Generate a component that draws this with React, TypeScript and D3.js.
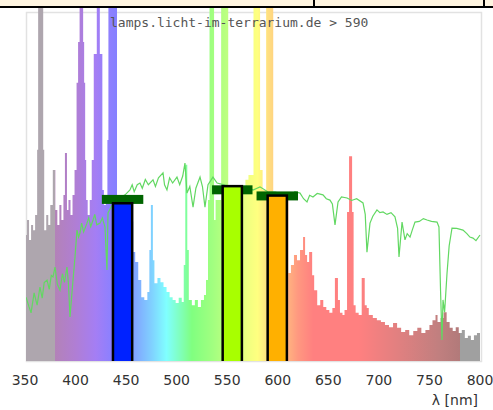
import React from 'react';
import * as d3 from 'd3';

const W = 493;
const H = 410;

const xTicks = [350, 400, 450, 500, 550, 600, 650, 700, 750, 800];
const axisTitle = 'λ [nm]';
const chartTitle = 'lamps.licht-im-terrarium.de > 590';

// lamp spectrum: [wavelength nm, relative intensity %] (step-after)
const spectrum: [number, number][] = [
  [350, 36.1], [352, 40.4], [354, 34.7], [356, 39.0], [358, 37.5], [360, 41.8],
  [362, 60.5], [363, 110], [368, 60.5], [369, 37.5], [371, 41.8], [373, 39.0],
  [375, 44.7], [377.5, 54.7], [380, 43.3], [382, 39.0], [384, 44.7], [386, 40.4],
  [388, 47.6], [389.5, 59.6], [391.5, 43.3], [393, 46.1], [395, 41.8], [397, 47.6],
  [399, 54.7], [401, 79.7], [402.5, 91.4], [404, 110], [407.5, 91.4], [408.5, 79.7],
  [409.5, 57.6], [410.5, 46.1], [412, 41.8], [414, 46.1], [416, 57.6], [418, 88],
  [421, 110], [424, 88], [426.5, 49], [428, 44.7], [430, 47.6], [431.5, 63.3],
  [432.5, 110], [441, 40], [457, 31.2], [459, 28.4], [462, 23.2], [465, 18.3],
  [468, 17.5], [471, 19.8], [473, 31.8], [474.5, 44.7], [476.5, 28.9], [478, 22.3],
  [481, 23.8], [484, 22.6], [487, 21.2], [490, 19.8], [493, 18.3], [496, 17.5],
  [499, 16.6], [502, 18.1], [505, 16.9], [507, 27.5], [508.5, 56.2], [510.5, 31.8],
  [512, 17.5], [515, 16.0], [518, 17.5], [521, 15.5], [524, 17.5], [527, 18.9],
  [529, 23.2], [531, 46.1], [532.5, 110], [537, 40.4], [538.5, 46.1], [544, 110],
  [551, 49.0], [565.5, 49.0], [568, 51.9], [571, 53.3], [576, 110], [582.5, 54.7],
  [585, 49.0], [588.5, 110], [595.5, 46.1], [610.5, 25.2], [613, 27.5], [616, 30.4],
  [619, 28.9], [622, 31.8], [625, 35.5], [627, 30.4], [629, 28.4], [631, 31.2],
  [634, 24.6], [636, 20.3], [639, 16.0], [642, 17.5], [645, 15.5], [648, 14.6],
  [651, 13.8], [654, 15.2], [656.5, 23.8], [659.5, 17.5], [661.5, 13.8], [664, 13.2],
  [666, 14.6], [668.5, 42.7], [670.5, 58.7], [673.5, 42.7], [675, 16.0], [677, 13.8],
  [680, 13.2], [683, 23.8], [686, 16.0], [688, 15.2], [690, 13.2], [694, 12.3],
  [698, 11.7], [702, 11.2], [706, 10.3], [710, 9.7], [714, 10.9], [718, 9.5],
  [722, 8.3], [726, 8.9], [730, 7.4], [734, 8.6], [738, 9.5], [742, 8.0],
  [746, 8.9], [750, 10.3], [753, 11.7], [756, 13.2], [758, 11.2], [761, 12.3],
  [764, 14.0], [767, 11.2], [770, 9.5], [773, 8.6], [776, 9.7], [779, 8.0],
  [782, 8.9], [785, 6.6], [788, 7.2], [791, 6.0], [794, 7.4], [797, 8.0], [800, 8.0],
];

// reference (daylight-like) curve: [wavelength nm, relative %]
const reference: [number, number][] = [
  [351, 18.3], [354, 15.5], [356, 13.8], [359, 19.5], [362, 16.0], [364.8, 21.2],
  [367, 18.0], [369, 22.5], [371.8, 23.2], [374, 20.5], [376, 24.5], [377.7, 24.1],
  [379.7, 26.9], [382, 22.0], [384.6, 20.3], [387, 25.0], [389, 22.5], [391.5, 26.9],
  [393, 22.0], [394.5, 12.6], [396, 18.0], [397.5, 23.2], [399.5, 30.0], [401.4, 37.5],
  [403, 35.5], [404.4, 36.7], [406, 39.5], [408, 37.0], [411.3, 39.5], [413, 41.0],
  [415, 38.5], [417.3, 40.4], [419, 42.0], [421, 39.0], [424.2, 39.5], [426.5, 41.0],
  [429.1, 38.4], [431.1, 26.1], [432.1, 42.4], [436, 44.5], [440, 46.0], [445, 47.0],
  [449, 47.6], [453.8, 49.0], [456, 50.5], [458, 48.5], [461, 50.5], [463.7, 51.0],
  [466, 49.5], [469, 52.0], [472, 50.5], [476.6, 51.9], [479, 50.0], [482, 52.5],
  [486.5, 53.9], [488, 50.5], [490.4, 49.0], [493, 52.5], [496, 51.0], [500.3, 52.7],
  [503, 50.5], [506, 53.0], [508.2, 56.7], [510.2, 48.1], [513, 50.0], [516.2, 44.1],
  [519, 49.5], [523.1, 52.7], [525.5, 50.0], [528, 44.1], [531, 50.5], [535.9, 52.7],
  [540, 51.0], [547.8, 50.4], [555, 50.0], [562.6, 49.6], [569, 50.0], [575.5, 49.0],
  [582.4, 49.9], [590, 48.5], [597.3, 48.4], [605, 47.8], [612.1, 47.3], [617, 48.5],
  [622, 48.1], [625.5, 46.5], [628.9, 45.6], [631.5, 47.5], [634.8, 47.0], [639, 48.0],
  [644.7, 47.6], [648, 46.5], [651.6, 46.1], [654, 45.0], [656.6, 39.0], [659.6, 45.6],
  [663, 47.0], [668.5, 46.7], [673, 46.0], [678, 46.5], [684.3, 45.3], [686.5, 42.0],
  [688.2, 31.2], [691.2, 39.5], [694, 41.5], [698.1, 43.3], [701, 42.5], [704.1, 42.7],
  [708, 42.0], [712, 42.5], [715.9, 41.3], [718.5, 38.0], [719.9, 29.8], [722.9, 39.8],
  [725.8, 34.7], [728, 36.5], [730.8, 35.5], [733, 37.5], [735.7, 39.8], [740, 40.0],
  [744, 40.8], [747.6, 40.4], [752, 40.0], [757.5, 39.8], [759.4, 38.4], [761, 20.0],
  [762.4, 6.0], [763.4, 17.5], [765, 14.0], [767.4, 25.2], [769.5, 33.0], [772.3, 38.1],
  [777, 38.0], [783.2, 37.5], [787, 36.5], [790, 35.5], [793.1, 35.2], [796, 34.5],
  [800, 36.1],
];

// colour of the spectrum fill per wavelength
const colorStops: [number, string][] = [
  [350, '#aea6ae'], [379.9, '#aea6ae'], [380, '#b382b8'], [400, '#b07ed4'],
  [420, '#a47ef4'], [435, '#8c80ff'], [445, '#8080ff'], [460, '#80a8ff'],
  [475, '#80d0ff'], [490, '#80ffff'], [505, '#80ffb4'], [515, '#80ff80'],
  [535, '#a0ff80'], [555, '#c8ff80'], [570, '#f0ff80'], [580, '#ffff80'],
  [590, '#ffe080'], [605, '#ffc080'], [620, '#ff9880'], [635, '#ff8080'],
  [680, '#ff8080'], [720, '#e08080'], [760, '#c07f7f'], [779.9, '#b27a7a'],
  [780, '#a0a0a0'], [800, '#a0a0a0'],
];

// LED bands
const bandCenters = [446.5, 555, 599.5];
const bandWidths = [19, 19, 19];
const bandValues = [45.2, 50.1, 47.4];
const bandTargets = [46.3, 49.05, 47.3];
const bandColors = ['#0022ff', '#a8ff00', '#ffb000'];
const targetWidths = [41, 40, 41];

export default function App() {
  const x = d3.scaleLinear().domain([350, 800]).range([25, 480]);
  const y = d3.scaleLinear().domain([0, 100]).range([361, 12]);

  const area = d3
    .area<[number, number]>()
    .x((d) => x(d[0]))
    .y0(y(0))
    .y1((d) => y(d[1]))
    .curve(d3.curveStepAfter);

  const line = d3
    .line<[number, number]>()
    .x((d) => x(d[0]))
    .y((d) => y(d[1]));

  const span = 450;

  return (
    <svg
      width={W}
      height={H}
      style={{ position: 'absolute', left: 0, top: 0, background: '#fff' }}
    >
      <defs>
        <linearGradient id="spec" gradientUnits="userSpaceOnUse" x1={x(350)} x2={x(800)} y1={0} y2={0}>
          {colorStops.map(([l, c], i) => (
            <stop key={i} offset={(l - 350) / span} stopColor={c} />
          ))}
        </linearGradient>
        <clipPath id="plot">
          <rect x={26} y={0} width={456} height={361} />
        </clipPath>
      </defs>

      {/* frame */}
      <rect x={26.5} y={12.5} width={455} height={349} fill="#fff" stroke="#e2e2e2" strokeWidth={1.5} />

      <g clipPath="url(#plot)">
        <path d={area(spectrum) || ''} fill="url(#spec)" />
        <path d={line(reference) || ''} fill="none" stroke="#62d862" strokeWidth={1.2} />
        {bandCenters.map((c, i) => (
          <rect
            key={'t' + i}
            x={x(c - targetWidths[i] / 2)}
            y={y(bandTargets[i]) - 4.5}
            width={x(c + targetWidths[i] / 2) - x(c - targetWidths[i] / 2)}
            height={9}
            fill="#006400"
          />
        ))}
        {bandCenters.map((c, i) => (
          <rect
            key={'b' + i}
            x={x(c - bandWidths[i] / 2)}
            y={y(bandValues[i])}
            width={x(c + bandWidths[i] / 2) - x(c - bandWidths[i] / 2)}
            height={y(0) - y(bandValues[i]) + 5}
            fill={bandColors[i]}
            stroke="#000"
            strokeWidth={2.5}
          />
        ))}
      </g>

      <text
        x={110}
        y={27}
        fontFamily="'DejaVu Sans Mono', monospace"
        fontSize={13}
        fill="#555"
      >
        {chartTitle}
      </text>

      {xTicks.map((t) => (
        <text
          key={t}
          x={x(t)}
          y={385}
          textAnchor="middle"
          fontFamily="'DejaVu Sans', sans-serif"
          fontSize={14}
          fill="#333"
        >
          {t}
        </text>
      ))}
      <text
        x={478}
        y={405}
        textAnchor="end"
        fontFamily="'DejaVu Sans', sans-serif"
        fontSize={14}
        fill="#333"
      >
        {axisTitle}
      </text>

      {/* table strip above */}
      <rect x={0} y={0} width={W} height={6} fill="#fff5e1" />
      <rect x={0} y={6} width={W} height={2} fill="#000" />
      <rect x={313} y={0} width={2} height={8} fill="#000" />
      <rect x={483} y={0} width={2} height={8} fill="#000" />
    </svg>
  );
}
